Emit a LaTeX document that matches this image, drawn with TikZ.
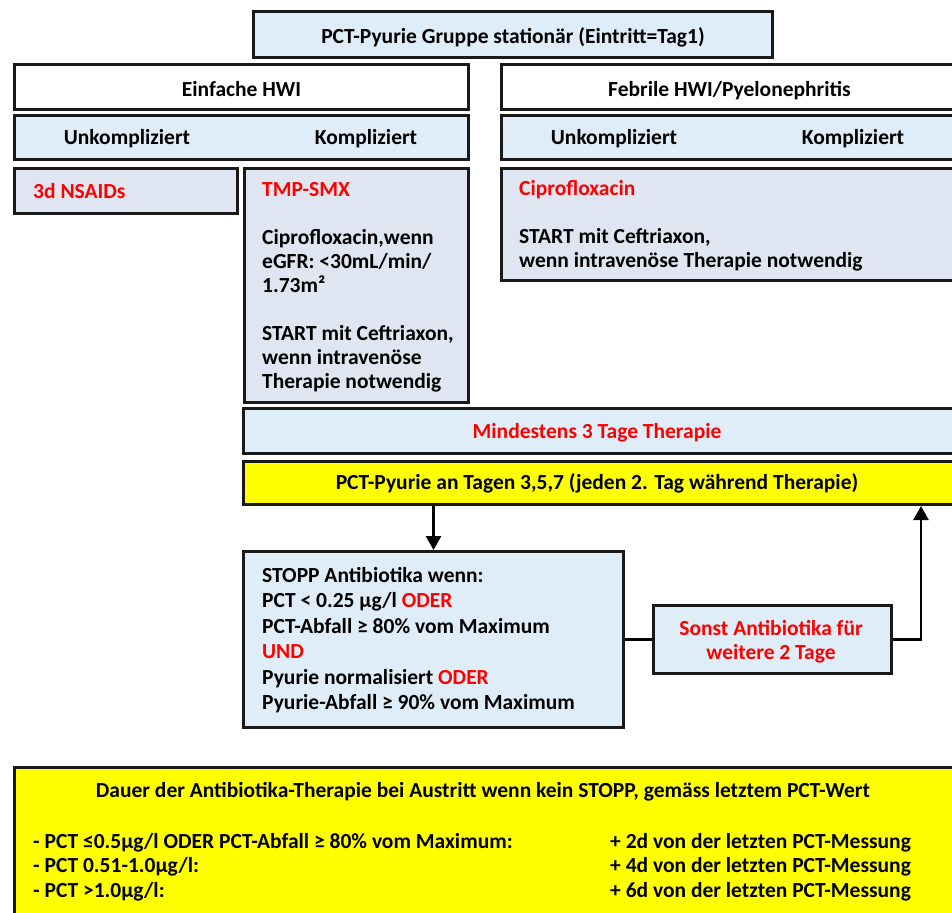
\documentclass[tikz,border=0pt]{standalone}
\usepackage{fontspec}
\setmainfont{Carlito}
\usetikzlibrary{positioning,arrows.meta}

\definecolor{paleblue}{RGB}{222,237,247}
\definecolor{greyblue}{RGB}{223,230,241}
\definecolor{alertred}{RGB}{255,0,0}
\definecolor{signyellow}{RGB}{255,255,0}

\begin{document}
\begin{tikzpicture}[x=1pt,y=-1pt,
  font=\fontsize{21.5}{24}\selectfont\bfseries,
  box/.style={draw=black!90, line width=3pt, fill=paleblue, anchor=north west, inner sep=0pt,
    text height=19pt, text depth=0pt},
  lbl/.style={inner sep=0pt, align=left, anchor=north west},
  base/.style={inner sep=0pt, anchor=base},
  >={Triangle[length=14pt,width=15pt]}]

\useasboundingbox (0,0) rectangle (952,912);

% Title
\node[box, minimum width=519pt, minimum height=46pt] (gruppe) at (252,10)
  {PCT-Pyurie Gruppe stationär (Eintritt=Tag1)};

% Headers
\node[box, fill=white, minimum width=454pt, minimum height=45pt] (einfach) at (13,63) {Einfache HWI};
\node[box, fill=white, minimum width=456pt, minimum height=45pt] (febril) at (500,63) {Febrile HWI/Pyelonephritis};

% Sub-headers
\node[box, minimum width=454pt, minimum height=44pt] (einfachsub) at (13,114) {};
\node[box, minimum width=460pt, minimum height=44pt] (febrilsub) at (500,114) {};
\node[base] at (127,145) {Unkompliziert};
\node[base] at (366,145) {Kompliziert};
\node[base] at (614,145) {Unkompliziert};
\node[base] at (853,145) {Kompliziert};

% Drug boxes
\node[box, fill=greyblue, minimum width=223pt, minimum height=45pt] (nsaid) at (13,167) {};
\node[base, anchor=base west, text=alertred] at (33,198) {3d NSAIDs};

\node[box, fill=greyblue, minimum width=224pt, minimum height=234pt] (tmp) at (243,167) {};
\node[lbl] at (262,182) {\textcolor{alertred}{TMP-SMX}\\[24pt]
  Ciprofloxacin,wenn\\ eGFR: <30mL/min/\\ 1.73m²\\[24pt]
  START mit Ceftriaxon,\\ wenn intravenöse\\ Therapie notwendig};

\node[box, fill=greyblue, minimum width=460pt, minimum height=112pt] (cipro) at (500,167) {};
\node[lbl] at (519,180) {\textcolor{alertred}{Ciprofloxacin}\\[24pt]
  START mit Ceftriaxon,\\ wenn intravenöse Therapie notwendig};

% Therapy bars
\node[box, minimum width=716pt, minimum height=45pt] (mindest) at (242,407) {};
\node[base, text=alertred] at (597,438) {Mindestens 3 Tage Therapie};
\node[box, fill=signyellow, minimum width=716pt, minimum height=43pt] (gelb) at (242,460) {};
\node[base] at (597,489) {PCT-Pyurie an Tagen 3,5,7 (jeden 2. Tag während Therapie)};

% Stop rule and loop
\node[box, minimum width=380pt, minimum height=176pt] (stopp) at (242,550) {};
\node[lbl, font=\fontsize{21.5}{25.5}\selectfont\bfseries] at (262,567) {STOPP Antibiotika wenn:\\
  PCT < 0.25 µg/l \textcolor{alertred}{ODER}\\
  PCT-Abfall ≥ 80\% vom Maximum\\
  \textcolor{alertred}{UND}\\
  Pyurie normalisiert \textcolor{alertred}{ODER}\\
  Pyurie-Abfall ≥ 90\% vom Maximum};
\node[box, minimum width=238pt, minimum height=68pt] (sonst) at (652,604) {};
\node[lbl, anchor=north, align=center, text=alertred] at (771,620) {Sonst Antibiotika für\\ weitere 2 Tage};
\coordinate (rueck) at (921,0);

\draw[line width=2.6pt, ->] (gelb.south -| stopp.north) -- (stopp.north);
\draw[line width=2.6pt] (stopp.east) -- (sonst.west);
\draw[line width=2.6pt, ->] (sonst.east) -| (rueck |- gelb.south);

% Discharge
\node[box, fill=signyellow, minimum width=945pt, minimum height=150pt] (austritt) at (13,766) {};
\node[base] at (483,797) {Dauer der Antibiotika-Therapie bei Austritt wenn kein STOPP, gemäss letztem PCT-Wert};
\node[lbl, font=\fontsize{21.5}{24.5}\selectfont\bfseries] at (33,833) {- PCT ≤0.5µg/l ODER PCT-Abfall ≥ 80\% vom Maximum:\\
  - PCT 0.51-1.0µg/l:\\ - PCT >1.0µg/l:};
\node[lbl, font=\fontsize{21.5}{24.5}\selectfont\bfseries] at (610,833) {+ 2d von der letzten PCT-Messung\\
  + 4d von der letzten PCT-Messung\\ + 6d von der letzten PCT-Messung};
\end{tikzpicture}
\end{document}
